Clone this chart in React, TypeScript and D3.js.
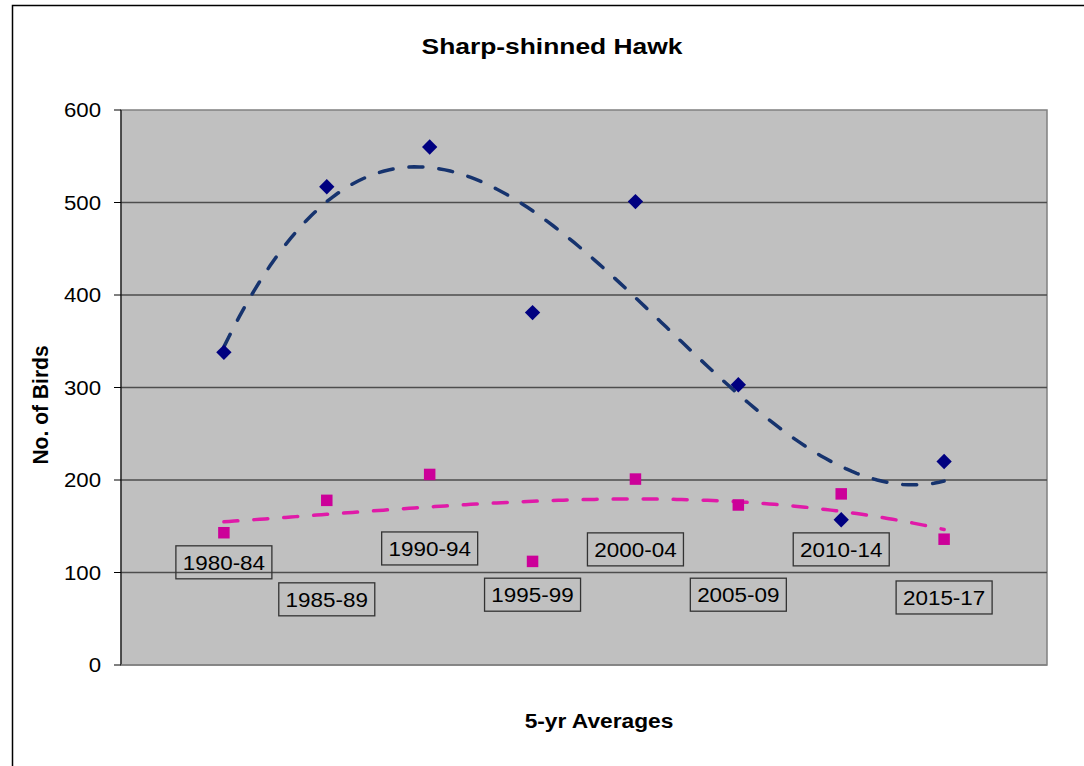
import { useEffect, useRef } from 'react'
import * as d3 from 'd3'

const periods = ['1980-84', '1985-89', '1990-94', '1995-99', '2000-04', '2005-09', '2010-14', '2015-17']
const fallCounts = [338, 517, 560, 381, 501, 303, 157, 220]
const springCounts = [143, 178, 206, 112, 201, 173, 185, 136]
// hidden series carrying the period labels
const labelValues = [111, 71, 126, 76, 125, 76, 125, 73]
const yTicks = [0, 100, 200, 300, 400, 500, 600]

// least squares polynomial, like an Excel trendline
function polyFit(xs: number[], ys: number[], order: number) {
  const n = order + 1
  const A = Array.from({ length: n }, () => new Array(n + 1).fill(0))
  xs.forEach((x, k) => {
    for (let i = 0; i < n; i++) {
      for (let j = 0; j < n; j++) A[i][j] += Math.pow(x, i + j)
      A[i][n] += Math.pow(x, i) * ys[k]
    }
  })
  for (let c = 0; c < n; c++) {
    let p = c
    for (let r = c + 1; r < n; r++) if (Math.abs(A[r][c]) > Math.abs(A[p][c])) p = r
    ;[A[c], A[p]] = [A[p], A[c]]
    for (let r = 0; r < n; r++) {
      if (r === c) continue
      const f = A[r][c] / A[c][c]
      for (let k = c; k <= n; k++) A[r][k] -= f * A[c][k]
    }
  }
  const coef = A.map((row, i) => row[n] / row[i])
  return (x: number) => coef.reduce((s, a, i) => s + a * Math.pow(x, i), 0)
}

export default function App() {
  const svgRef = useRef<SVGSVGElement>(null)

  useEffect(() => {
    if (!svgRef.current) return
    const svg = d3.select(svgRef.current)
    svg.selectAll('*').remove()

    const left = 121, right = 1047, top = 110, bottom = 665
    const font = 'Liberation Sans, Arial, sans-serif'

    svg.append('rect')
      .attr('x', 12.5).attr('y', 5.5).attr('width', 1100).attr('height', 800)
      .attr('fill', '#fff').attr('stroke', '#000').attr('stroke-width', 1.5)

    const x = d3.scaleLinear().domain([0, periods.length + 1]).range([left, right])
    const y = d3.scaleLinear().domain([0, 600]).range([bottom, top])
    const xs = periods.map((_, i) => i + 1)

    svg.append('rect')
      .attr('x', left).attr('y', top).attr('width', right - left).attr('height', bottom - top)
      .attr('fill', '#c0c0c0').attr('stroke', '#808080').attr('stroke-width', 1.5)

    svg.append('g')
      .selectAll('line')
      .data(yTicks.slice(1, -1))
      .join('line')
      .attr('x1', left).attr('x2', right)
      .attr('y1', d => y(d)).attr('y2', d => y(d))
      .attr('stroke', '#4d4d4d').attr('stroke-width', 1.5)

    // axes
    svg.append('line')
      .attr('x1', left).attr('x2', left).attr('y1', top).attr('y2', bottom)
      .attr('stroke', '#000').attr('stroke-width', 1)
    svg.append('line')
      .attr('x1', left).attr('x2', right).attr('y1', bottom).attr('y2', bottom)
      .attr('stroke', '#808080').attr('stroke-width', 1.5)
    const ticks = svg.append('g')
    ticks.selectAll('line')
      .data(yTicks)
      .join('line')
      .attr('x1', left - 7).attr('x2', left)
      .attr('y1', d => y(d)).attr('y2', d => y(d))
      .attr('stroke', '#000')
    ticks.selectAll('text')
      .data(yTicks)
      .join('text')
      .attr('transform', d => `translate(101,${y(d)}) scale(1.14,1)`)
      .attr('dy', '0.36em')
      .attr('text-anchor', 'end')
      .attr('font-family', font).attr('font-size', 19.5)
      .text(d => d)

    // trendlines
    const trend = (vals: number[], order: number, color: string) => {
      const f = polyFit(xs, vals, order)
      const pts = d3.range(1, periods.length + 0.001, 0.05)
      svg.append('path')
        .datum(pts)
        .attr('fill', 'none')
        .attr('stroke', color)
        .attr('stroke-width', 3.5)
        .attr('stroke-linecap', 'round')
        .attr('stroke-dasharray', '14 16')
        .attr('d', d3.line<number>().x(d => x(d)).y(d => y(f(d))))
    }
    trend(fallCounts, 3, '#16336e')
    trend(springCounts, 3, '#e01aa8')

    // markers
    svg.append('g')
      .selectAll('path')
      .data(fallCounts)
      .join('path')
      .attr('transform', (d, i) => `translate(${x(xs[i])},${y(d)})`)
      .attr('d', d3.symbol().type(d3.symbolDiamond2).size(150)())
      .attr('fill', '#000080')
    svg.append('g')
      .selectAll('rect')
      .data(springCounts)
      .join('rect')
      .attr('x', (d, i) => x(xs[i]) - 5.75)
      .attr('y', d => y(d) - 5.75)
      .attr('width', 11.5).attr('height', 11.5)
      .attr('fill', '#cc0099')

    // period labels
    const lab = svg.append('g')
      .selectAll('g')
      .data(labelValues)
      .join('g')
      .attr('transform', (d, i) => `translate(${x(xs[i])},${y(d)})`)
    lab.append('rect')
      .attr('x', -48).attr('y', -16.5).attr('width', 96).attr('height', 33)
      .attr('fill', 'none').attr('stroke', '#333').attr('stroke-width', 1.3)
    lab.append('text')
      .attr('transform', 'scale(1.07,1)')
      .attr('dy', '0.36em')
      .attr('text-anchor', 'middle')
      .attr('font-family', font).attr('font-size', 21)
      .text((d, i) => periods[i])

    svg.append('text')
      .attr('transform', 'translate(552,54) scale(1.2,1)')
      .attr('text-anchor', 'middle')
      .attr('font-family', font).attr('font-size', 22).attr('font-weight', 'bold')
      .text('Sharp-shinned Hawk')
    svg.append('text')
      .attr('transform', 'translate(599,728) scale(1.11,1)')
      .attr('text-anchor', 'middle')
      .attr('font-family', font).attr('font-size', 20.5).attr('font-weight', 'bold')
      .text('5-yr Averages')
    svg.append('text')
      .attr('transform', 'translate(48,405) rotate(-90) scale(1.08,1.12)')
      .attr('text-anchor', 'middle')
      .attr('font-family', font).attr('font-size', 19.5).attr('font-weight', 'bold')
      .text('No. of Birds')
  }, [])

  return (
    <svg ref={svgRef} width={1084} height={766}
      style={{ position: 'absolute', left: 0, top: 0, background: '#fff' }} />
  )
}
